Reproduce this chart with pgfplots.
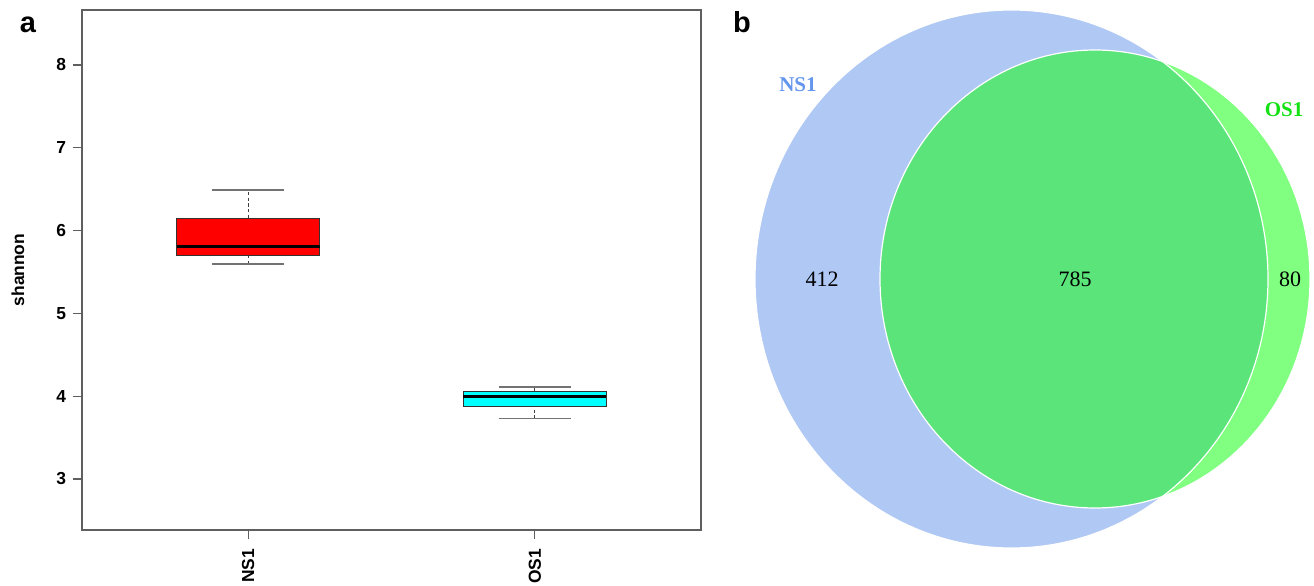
\documentclass[border=0pt]{standalone}
\usepackage{pgfplots}
\pgfplotsset{compat=1.18}
\usepackage{fontspec}
\setmainfont{Liberation Sans}
\newfontfamily\seriffont{Liberation Serif}
\definecolor{nsblue}{RGB}{176,200,244}
\definecolor{osgreen}{RGB}{128,255,128}
\definecolor{ovgreen}{RGB}{90,228,122}
\definecolor{nstext}{RGB}{100,150,238}
\definecolor{ostext}{RGB}{20,225,20}
\definecolor{framegray}{RGB}{95,95,95}
\definecolor{boxred}{RGB}{255,0,0}
\definecolor{boxcyan}{RGB}{0,255,255}
\begin{document}
\begin{tikzpicture}
\useasboundingbox (0,0) rectangle (657pt,292.5pt);
% panel a
\begin{axis}[
  at={(41pt,27.5pt)}, anchor=south west,
  scale only axis, width=309.5pt, height=260pt,
  xmin=0.42, xmax=2.58, ymin=2.384, ymax=8.664,
  axis line style={draw=framegray, line width=0.6pt},
  xtick={1,2}, xticklabels={NS1,OS1},
  ytick={3,4,5,6,7,8},
  tick align=outside, tick pos=left,
  major tick length=4.5pt,
  tick style={draw=framegray, line width=0.6pt},
  /pgf/number format/assume math mode=true,
  ticklabel style={font=\fontsize{8.7}{10}\selectfont\bfseries},
  xticklabel style={rotate=90, anchor=east, xshift=-1.5pt},
  ylabel={shannon},
  every axis y label/.style={at={(axis description cs:0,0.5)}, xshift=-32pt, rotate=90, anchor=center, font=\fontsize{8.7}{10}\selectfont\bfseries},
  whisk/.style={black!75, line width=0.5pt, dash pattern=on 1.6pt off 1.3pt},
  cap/.style={black!55, line width=0.8pt},
]
% NS1: whiskers, caps, box, median
\addplot[whisk] coordinates {(1,6.15) (1,6.49)};
\addplot[whisk] coordinates {(1,5.6) (1,5.705)};
\addplot[cap] coordinates {(0.875,6.49) (1.125,6.49)};
\addplot[cap] coordinates {(0.875,5.6) (1.125,5.6)};
\addplot[fill=boxred, draw=black!80, line width=0.5pt] coordinates {(0.75,5.705) (1.25,5.705) (1.25,6.15) (0.75,6.15)} -- cycle;
\addplot[black, line width=1.6pt] coordinates {(0.75,5.81) (1.25,5.81)};
% OS1
\addplot[whisk] coordinates {(2,4.06) (2,4.11)};
\addplot[whisk] coordinates {(2,3.73) (2,3.87)};
\addplot[cap] coordinates {(1.875,4.11) (2.125,4.11)};
\addplot[cap] coordinates {(1.875,3.73) (2.125,3.73)};
\addplot[fill=boxcyan, draw=black!80, line width=0.5pt] coordinates {(1.75,3.87) (2.25,3.87) (2.25,4.06) (1.75,4.06)} -- cycle;
\addplot[black, line width=1.6pt] coordinates {(1.75,4.0) (2.25,4.0)};
\end{axis}
% panel b
\begin{axis}[
  at={(350pt,0pt)}, anchor=south west,
  scale only axis, width=307pt, height=292.5pt,
  xmin=700, xmax=1314, ymin=0, ymax=585,
  hide axis, clip=false,
]
\fill[nsblue] (axis cs:1011.5,306) ellipse [x radius=256.5, y radius=269];
\fill[osgreen] (axis cs:1095,306) ellipse [x radius=215, y radius=229];
\begin{scope}
\clip (axis cs:1011.5,306) ellipse [x radius=256.5, y radius=269];
\fill[ovgreen] (axis cs:1095,306) ellipse [x radius=215, y radius=229];
\end{scope}
\draw[white, line width=0.6pt] (axis cs:1011.5,306) ellipse [x radius=256.5, y radius=269];
\draw[white, line width=0.6pt] (axis cs:1095,306) ellipse [x radius=215, y radius=229];
\node[font=\seriffont\fontsize{10.5}{12}\selectfont\bfseries, text=nstext] at (axis cs:798,500) {NS1};
\node[font=\seriffont\fontsize{10.5}{12}\selectfont\bfseries, text=ostext] at (axis cs:1284,475) {OS1};
\node[font=\seriffont\fontsize{11}{12}\selectfont] at (axis cs:822,306) {412};
\node[font=\seriffont\fontsize{11}{12}\selectfont] at (axis cs:1075,306) {785};
\node[font=\seriffont\fontsize{11}{12}\selectfont] at (axis cs:1290,306) {80};
\end{axis}
\node[font=\fontsize{14.5}{16}\selectfont\bfseries] at (14pt,280pt) {a};
\node[font=\fontsize{14.5}{16}\selectfont\bfseries] at (371pt,281.5pt) {b};
\end{tikzpicture}
\end{document}
